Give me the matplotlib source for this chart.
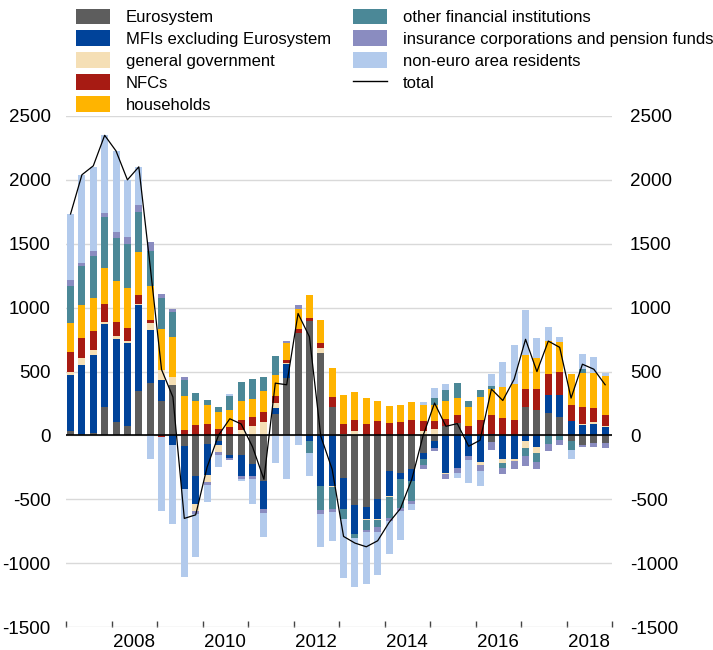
"""Stacked quarterly flows by holding sector, with total line."""

import matplotlib
matplotlib.use("Agg")
import matplotlib.pyplot as plt
from matplotlib.patches import Patch
from matplotlib.lines import Line2D
import numpy as np

plt.rcParams["font.family"] = ["Liberation Sans", "DejaVu Sans"]
plt.rcParams["axes.unicode_minus"] = False

# quarters 2007Q1 .. 2018Q4
quarters = [f"{y}Q{q}" for y in range(2007, 2019) for q in range(1, 5)]

eurosystem = [32, 14, 19, 222, 102, 76, 344, 409, 266, 396, -85, -318,
              -64, -41, -157, -150, -227, -357, 167, 453, 803, 894, 647, 219,
              -331, -547, -557, -500, -280, -292, -266, -136, -46, 71, 97, 0,
              0, -54, 0, 0, 219, 201, 175, 141, -47, -72, -57, -57]
mfis = [442, 537, 610, 647, 650, 649, 676, 416, 169, -77, -337, -221,
        -249, -38, -18, -168, -91, -221, 47, 102, 0, -46, -396, -396,
        -247, -226, -99, -156, -194, -47, -91, -52, -51, -295, -253, -163,
        -209, 14, -188, -188, -46, -90, 143, 177, 115, 79, 90, 66]
general_gov = [26, 57, 39, 20, 28, 16, 10, 55, 78, 64, 0, -52,
               -52, -53, 0, 45, 71, 105, 39, 10, 0, 0, 35, -5,
               14, 32, -5, -5, -5, -5, 0, 32, 53, -8, 0, 0,
               -20, 0, -30, -15, -51, -50, 0, 0, 0, 13, 12, 10]
nfcs = [155, 156, 151, 143, 104, 101, 70, 22, -10, 0, 45, 84,
        92, 53, 63, 73, 70, 78, 52, 25, 27, 26, 43, 81,
        78, 86, 92, 110, 97, 102, 118, 78, 57, 57, 65, 76,
        123, 143, 136, 123, 146, 161, 161, 181, 125, 127, 112, 81]
households = [226, 255, 260, 278, 322, 315, 334, 270, 317, 307, 260, 182,
              148, 130, 133, 148, 146, 161, 169, 130, 163, 177, 177, 226,
              226, 221, 200, 156, 135, 138, 143, 130, 130, 138, 130, 146,
              177, 205, 239, 278, 264, 246, 259, 234, 241, 273, 273, 309]
ofis = [288, 304, 329, 397, 337, 343, 317, 270, 249, 195, 130, 65,
        33, 39, 115, 155, 153, 112, 148, 0, 0, -90, -187, -177,
        -78, -33, -78, -60, -164, -221, -156, -45, 52, 91, 117, 49,
        57, 26, -35, 0, -66, -69, -64, -40, -70, 26, 0, 0]
icpfs = [45, 29, 32, 34, 52, 56, 55, 70, 31, 31, 21, -26,
         -26, -18, -20, -27, -27, -27, 0, 18, 31, -5, -32, -18,
         0, 0, -21, -33, -26, -25, -27, -29, -28, -40, -42, -32,
         -51, -64, -52, -63, -73, -57, -61, -35, 0, -18, -33, -43]
non_euro = [519, 688, 664, 608, 631, 444, 296, -188, -581, -618, -688, -337,
            -130, -95, 15, -15, -194, -193, -214, -344, -72, -177, -261, -229,
            -462, -382, -402, -336, -260, -227, -43, 21, 78, 44, -36, -175,
            -116, 93, 202, 306, 351, 151, 112, 39, -71, 119, 124, 21]
total = [1733, 2040, 2110, 2349, 2226, 2000, 2102, 1324, 515, 300, -650, -622,
         -250, 0, 130, 89, -90, -344, 409, 396, 954, 772, -7, -266,
         -791, -843, -872, -825, -682, -573, -344, 0, 253, 71, 92, -85,
         -38, 362, 273, 440, 752, 499, 738, 689, 292, 557, 518, 396]

labels = ["Eurosystem", "MFIs excluding Eurosystem", "general government",
          "NFCs", "households", "other financial institutions",
          "insurance corporations and pension funds",
          "non-euro area residents"]
colors = ["#5d5d5d", "#00439a", "#f5dfb5", "#a71b13", "#ffb400",
          "#4b8897", "#8a8cc0", "#b2caec"]
series = [eurosystem, mfis, general_gov, nfcs, households, ofis, icpfs,
          non_euro]

x = 2007.1 + 0.25 * np.arange(len(quarters))

fig = plt.figure(figsize=(7.13, 6.5), dpi=100)
ax = fig.add_axes([66 / 713, 23 / 650, 546 / 713, 511 / 650])

pos_base = np.zeros(len(x))
neg_base = np.zeros(len(x))
for vals, col in zip(series, colors):
    v = np.array(vals, dtype=float)
    pos = np.where(v > 0, v, 0)
    neg = np.where(v < 0, v, 0)
    ax.bar(x, pos, bottom=pos_base, width=0.155, color=col, zorder=2,
           linewidth=0)
    ax.bar(x, neg, bottom=neg_base, width=0.155, color=col, zorder=2,
           linewidth=0)
    pos_base += pos
    neg_base += neg

ax.plot(x, total, color="black", linewidth=0.9, zorder=4)
ax.axhline(0, color="black", linewidth=1.2, zorder=3)

ax.set_xlim(2007, 2019)
ax.set_ylim(-1500, 2500)
yticks = np.arange(-1500, 2501, 500)
ax.set_yticks(yticks)
ax.grid(axis="y", color="#d9d9d9", linewidth=1, zorder=0)
ax.set_axisbelow(True)
for s in ax.spines.values():
    s.set_visible(False)

ax.set_xticks(np.arange(2007, 2020))
ax.set_xticklabels([])
ax.set_xticks(np.arange(2008.5, 2019, 2), minor=True)
ax.set_xticklabels([str(y) for y in range(2008, 2019, 2)], minor=True)
ax.tick_params(axis="x", which="major", direction="in", length=4,
               width=1, color="#444444")
ax.tick_params(axis="x", which="minor", length=0, pad=5, labelsize=13.5)
ax.tick_params(axis="y", length=0, pad=11, labelsize=13.5)

ax2 = ax.twinx()
ax2.set_ylim(-1500, 2500)
ax2.set_yticks(yticks)
ax2.tick_params(axis="y", length=0, pad=13, labelsize=13.5)
for s in ax2.spines.values():
    s.set_visible(False)

handles = [Patch(facecolor=c, edgecolor="none") for c in colors]
handles.append(Line2D([], [], color="black", linewidth=1))
leg_labels = labels + ["total"]
fig.legend(handles, leg_labels, ncol=2, loc="upper left",
           bbox_to_anchor=(76 / 713, 1 - 8.5 / 650), frameon=False,
           fontsize=12, handlelength=2.05, handleheight=1.05,
           labelspacing=0.33, handletextpad=0.95, columnspacing=1.3,
           borderpad=0, borderaxespad=0)

fig.savefig("out.png", dpi=100)
